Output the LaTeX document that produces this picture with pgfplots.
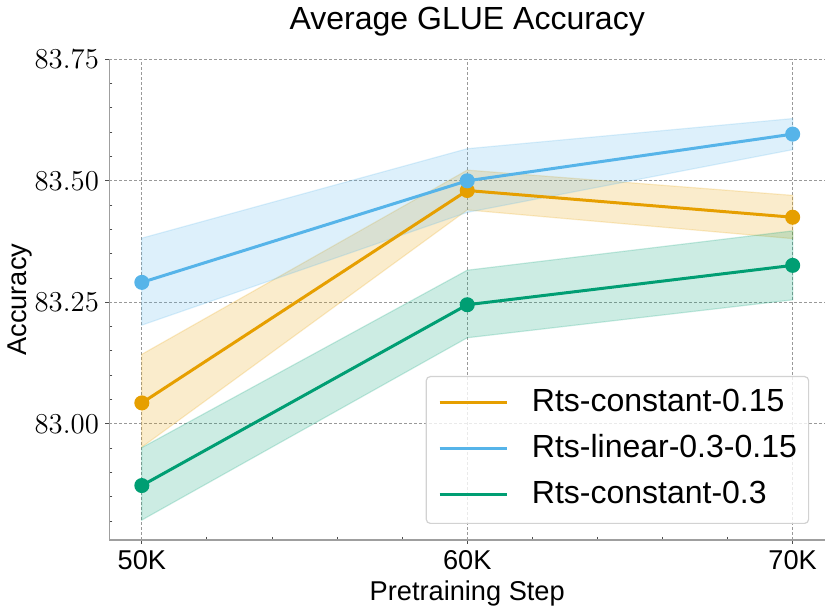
\documentclass[border=0pt]{standalone}
\usepackage{fontspec}
\setmainfont{Liberation Sans}
\usepackage{pgfplots}
\pgfplotsset{compat=1.18}
\definecolor{cor}{HTML}{E69F00}
\definecolor{cbl}{HTML}{56B4E9}
\definecolor{cgr}{HTML}{009E73}
\begin{document}
\begin{tikzpicture}
\begin{axis}[
  scale only axis, width=357.95pt, height=240.35pt,
  xmin=49, xmax=71, ymin=82.761, ymax=83.75,
  axis x line*=bottom, axis y line*=left,
  axis line style={draw=gray!75, line width=0.6pt},
  xtick={50,60,70}, xticklabels={50K,60K,70K},
  minor xtick={52,54,56,58,62,64,66,68},
  ytick={83,83.25,83.5,83.75},
  minor ytick={82.8,82.85,82.9,82.95,83.05,83.1,83.15,83.2,83.3,83.35,83.4,83.45,83.55,83.6,83.65,83.7},
  tick style={black!70, line width=0.5pt},
  tick align=outside, major tick length=2pt, minor tick length=-1.5pt,
  grid=major,
  major grid style={dash pattern=on 1.5pt off 1pt, gray!80, line width=0.4pt},
  yticklabel style={font=\fontsize{13.5}{16}\selectfont, anchor=east, inner sep=0pt, xshift=-3pt,
    /pgf/number format/fixed, /pgf/number format/fixed zerofill, /pgf/number format/precision=2},
  xticklabel style={font=\fontsize{13.6}{16}\selectfont, anchor=base, inner sep=0pt, yshift=-12.85pt},
  title={Average GLUE Accuracy},
  title style={font=\fontsize{16}{19}\selectfont, at={(axis description cs:0.5,1)}, anchor=base, yshift=9pt},
  xlabel={Pretraining Step},
  xlabel style={font=\fontsize{13.6}{16}\selectfont, at={(axis description cs:0.5,0)}, anchor=base, yshift=-30.5pt},
  ylabel={Accuracy},
  ylabel style={font=\fontsize{13.6}{16}\selectfont, at={(axis description cs:-0.1159,0.5)}, anchor=base},
  legend cell align=left,
  legend image code/.code={\draw[#1,mark=none] (0pt,0.6pt) -- (33.5pt,0.6pt); \path[draw=none,fill=none] (0pt,0.6pt) (46.2pt,0.6pt);},
  legend style={at={(axis description cs:1,0)}, anchor=south east, xshift=-8pt, yshift=8pt,
    draw=gray!35, line width=0.6pt, rounded corners=2pt, fill=white, fill opacity=0.8, text opacity=1,
    font=\fontsize{16}{19}\selectfont, inner xsep=5.85pt, inner ysep=5.2pt, row sep=6pt,
    nodes={inner sep=0pt, text height=12.2pt, text depth=4.8pt}},
]
% bands
\addplot[forget plot, fill=cor, fill opacity=0.2, draw=cor, draw opacity=0.2, line width=0.6pt]
  coordinates {(50,83.143) (60,83.522) (70,83.470) (70,83.381) (60,83.440) (50,82.952)} -- cycle;
\addplot[forget plot, fill=cbl, fill opacity=0.2, draw=cbl, draw opacity=0.2, line width=0.6pt]
  coordinates {(50,83.382) (60,83.566) (70,83.628) (70,83.564) (60,83.435) (50,83.203)} -- cycle;
\addplot[forget plot, fill=cgr, fill opacity=0.2, draw=cgr, draw opacity=0.2, line width=0.6pt]
  coordinates {(50,82.951) (60,83.316) (70,83.397) (70,83.255) (60,83.177) (50,82.802)} -- cycle;
% lines
\addplot[cor, line width=1.5pt, mark=*, mark size=3pt, mark options={solid, fill=cor, draw=cor}]
  coordinates {(50,83.043) (60,83.480) (70,83.425)};
\addlegendentry{Rts-constant-0.15}
\addplot[cbl, line width=1.5pt, mark=*, mark size=3pt, mark options={solid, fill=cbl, draw=cbl}]
  coordinates {(50,83.291) (60,83.500) (70,83.596)};
\addlegendentry{Rts-linear-0.3-0.15}
\addplot[cgr, line width=1.5pt, mark=*, mark size=3pt, mark options={solid, fill=cgr, draw=cgr}]
  coordinates {(50,82.873) (60,83.245) (70,83.326)};
\addlegendentry{Rts-constant-0.3}
\end{axis}
\pgfresetboundingbox
\path[use as bounding box] (-54.65pt,-36.5pt) rectangle (360.85pt,270pt);
\end{tikzpicture}
\end{document}
